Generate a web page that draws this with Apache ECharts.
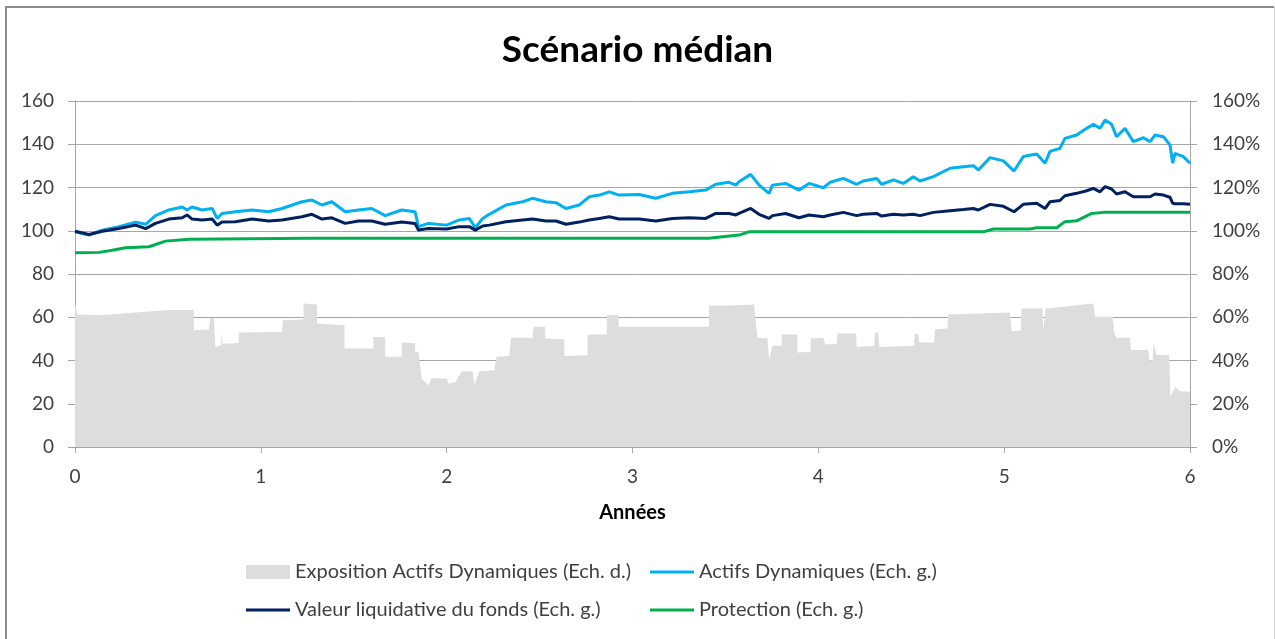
<!DOCTYPE html>
<html>
<head>
<meta charset="utf-8">
<script src="https://cdn.jsdelivr.net/npm/echarts@6/dist/echarts.min.js"></script>
<style>html,body{margin:0;padding:0;background:#fff;}#chart{width:1275px;height:639px;}</style>
</head>
<body>
<div id="chart"></div>
<script>
// ---- Data ----
const title = 'Scénario médian';
const xAxisName = 'Années';
const seriesNames = [
  'Exposition Actifs Dynamiques (Ech. d.)',
  'Actifs Dynamiques (Ech. g.)',
  'Valeur liquidative du fonds (Ech. g.)',
  'Protection (Ech. g.)'
];

// common sampling (years) for Actifs Dynamiques and Valeur liquidative
const lineYears = [0,0.075,0.147,0.236,0.326,0.38,0.433,0.505,0.577,0.603,0.63,0.684,0.738,0.765,0.791,0.863,0.953,1.042,1.114,1.221,1.275,1.329,1.382,1.454,1.526,1.597,1.669,1.758,1.83,1.848,1.902,2.0,2.068,2.122,2.154,2.194,2.229,2.319,2.409,2.462,2.534,2.588,2.642,2.713,2.767,2.821,2.875,2.928,3.036,3.125,3.215,3.305,3.394,3.448,3.52,3.556,3.573,3.636,3.681,3.735,3.753,3.824,3.896,3.95,4.027,4.063,4.135,4.206,4.242,4.314,4.341,4.404,4.457,4.511,4.547,4.619,4.709,4.78,4.834,4.861,4.924,4.996,5.053,5.103,5.175,5.22,5.247,5.3,5.327,5.39,5.444,5.48,5.516,5.543,5.578,5.605,5.65,5.695,5.749,5.785,5.812,5.857,5.892,5.907,5.919,5.964,6.0];

const actifsDynamiques = [99.5,98,100.3,101.9,104,103,107,109.6,111,109.6,111,109.6,110.3,105.7,108,108.8,109.6,108.8,110.3,113.4,114.2,111.9,113.4,108.8,109.6,110.3,107,109.6,108.8,101.9,103.4,102.6,105,105.7,101.4,105.7,107.6,111.9,113.4,115,113.4,113,110.3,111.9,115.7,116.5,118,116.5,116.8,115,117.3,118,118.8,121.5,122.4,121.1,122.7,126.1,121.1,117.3,121.1,121.9,118.8,121.9,119.9,122.4,124.2,121.5,123,124.2,121.5,123.5,121.9,125,123,125,128.9,129.6,130.1,128.1,133.8,132.3,127.6,134.3,135.5,131.2,136.7,138.1,142.7,144.3,147.4,149.2,147.4,151.2,149.2,143.5,147.4,141.2,143,141.2,144.3,143.5,139.7,131.2,135.8,134.3,131.2];

const valeurLiquidative = [99.8,98.3,99.8,101,102.6,101,103.4,105.4,106,107.3,105.4,105,105.4,102.6,104,104.2,105.4,104.5,105,106.5,107.6,105.4,106,103.4,104.5,104.5,103,104,103.4,100.3,101,100.8,101.9,101.9,100.3,102.2,102.6,104.2,105,105.4,104.5,104.5,103,104,105,105.7,106.5,105.4,105.4,104.5,105.7,106,105.7,108,108,107.3,108,110.3,107.6,105.7,107,108,106,107.3,106.5,107.3,108.5,107,107.6,108,106.8,107.6,107.3,107.6,107,108.5,109.3,109.8,110.3,109.6,112.2,111.3,108.8,112.2,112.7,110.3,113.4,114,116.2,117.3,118.5,119.6,118,120.4,119.3,117,118,115.7,115.7,115.7,117,116.5,115.5,112.7,112.5,112.5,112.2];

const protectionYears = [0,0.129,0.2,0.272,0.398,0.487,0.613,1.257,3.412,3.484,3.573,3.627,4.888,4.942,5.139,5.175,5.283,5.327,5.39,5.471,5.534,6.0];
const protection = [89.8,90,91,92.1,92.6,95.2,96.1,96.5,96.5,97.2,98,99.5,99.5,100.8,100.8,101.4,101.4,104.2,104.6,108,108.5,108.5];

// exposure (%) – step profile, repeated years mark vertical jumps
const expositionYears = [0,0.007,0.012,0.147,0.326,0.505,0.639,0.639,0.72,0.729,0.747,0.755,0.787,0.787,0.795,0.795,0.881,0.881,1.114,1.118,1.23,1.23,1.302,1.302,1.45,1.45,1.606,1.606,1.669,1.669,1.758,1.758,1.83,1.83,1.848,1.866,1.902,1.92,2.0,2.011,2.05,2.059,2.082,2.14,2.149,2.176,2.256,2.269,2.337,2.346,2.462,2.468,2.53,2.53,2.633,2.633,2.758,2.758,2.862,2.862,2.925,2.925,3.412,3.412,3.573,3.654,3.672,3.726,3.735,3.753,3.803,3.803,3.887,3.887,3.959,3.959,4.027,4.036,4.099,4.104,4.203,4.206,4.301,4.305,4.323,4.328,4.515,4.519,4.538,4.543,4.623,4.628,4.695,4.7,5.031,5.04,5.089,5.094,5.206,5.21,5.224,5.48,5.489,5.584,5.591,5.605,5.677,5.682,5.776,5.781,5.799,5.803,5.821,5.888,5.895,5.919,5.946,6.0];
const exposition = [66.4,66.4,61.3,61,62.2,63.3,63.3,54,54.3,59.7,59.7,46.3,47,52.5,52.5,47.8,48.1,52.9,53.2,58.6,59.1,66.4,65.9,57.1,56.3,45.5,45.5,50.9,50.9,41.7,41.7,48.3,48,44,44,31.6,28.5,31.9,31.6,29.3,30.2,31.9,35,35,28.5,35,35.5,41.7,42.1,50.5,50.5,55.6,55.6,50.2,49.8,42.1,42.4,52,52,61,61,55.6,55.6,65.3,65.6,65.9,50.5,50.2,40.6,46.8,46.8,52,52,43.7,44,50.2,50.5,47.4,47.8,52.5,52.5,46.3,46.8,52.9,52.9,46.3,46.8,52.5,52,48.3,48.3,54.5,54.8,61.3,62.2,53.5,54,64,64,54,64,66.4,60.2,60.2,53.2,50.5,50.5,44.8,44.8,40.1,40.1,47.8,42.7,42.4,23.1,27.8,25.8,25.5];

const leftTicks = {min: 0, max: 160, interval: 20};
const rightTicks = {min: 0, max: 160, interval: 20};
const xTicks = {min: 0, max: 6, interval: 1};

// ---- Build ----
const zip = (xs, ys) => xs.map((x, i) => [x, ys[i]]);
const colors = ['#dddddd', '#00b0f0', '#002060', '#00b050'];
const FONT = 'Lato, "Open Sans", sans-serif';
const axisGray = '#a6a6a6';

const chart = echarts.init(document.getElementById('chart'));

function legendFor(name, left, top, h) {
  return {
    data: [name], left: left, top: top, orient: 'horizontal',
    icon: 'rect', itemWidth: 44, itemHeight: h, selectedMode: false,
    textStyle: {fontFamily: FONT, fontSize: 20, color: '#404040'}
  };
}

chart.setOption({
  animation: false,
  backgroundColor: '#fff',
  title: {
    text: title, left: 'center', top: 27,
    textStyle: {fontFamily: FONT, fontSize: 37, fontWeight: 'bold', color: '#000'}
  },
  legend: [
    legendFor(seriesNames[0], 241, 557, 14),
    legendFor(seriesNames[1], 645, 557, 3),
    legendFor(seriesNames[2], 241, 595, 3),
    legendFor(seriesNames[3], 645, 595, 3)
  ],
  grid: {left: 75, top: 101, width: 1115, height: 346, containLabel: false},
  xAxis: {
    type: 'value', min: xTicks.min, max: xTicks.max, interval: xTicks.interval,
    name: xAxisName, nameLocation: 'middle', nameGap: 56,
    nameTextStyle: {fontFamily: FONT, fontSize: 20, fontWeight: 'bold', color: '#000'},
    axisLine: {show: true, onZero: false, lineStyle: {color: axisGray, width: 1}},
    axisTick: {show: true, length: 6, inside: false, lineStyle: {color: axisGray}},
    axisLabel: {margin: 20, fontFamily: FONT, fontSize: 19, color: '#404040'},
    splitLine: {show: false}
  },
  yAxis: [
    {
      type: 'value', position: 'left', min: leftTicks.min, max: leftTicks.max, interval: leftTicks.interval,
      axisLine: {show: true, lineStyle: {color: axisGray, width: 1}},
      axisTick: {show: true, length: 7, lineStyle: {color: axisGray}},
      axisLabel: {margin: 21, fontFamily: FONT, fontSize: 19, color: '#404040'},
      splitLine: {show: true, lineStyle: {color: axisGray, width: 1}}
    },
    {
      type: 'value', position: 'right', min: rightTicks.min, max: rightTicks.max, interval: rightTicks.interval,
      axisLine: {show: true, lineStyle: {color: axisGray, width: 1}},
      axisTick: {show: true, length: 7, lineStyle: {color: axisGray}},
      axisLabel: {margin: 22, fontFamily: FONT, fontSize: 19, color: '#404040', formatter: '{value}%'},
      splitLine: {show: false}
    }
  ],
  series: [
    {
      name: seriesNames[0], type: 'line', yAxisIndex: 1, z: 1,
      data: zip(expositionYears, exposition),
      showSymbol: false, symbol: 'none',
      itemStyle: {color: colors[0]},
      lineStyle: {width: 0, color: colors[0]},
      areaStyle: {color: colors[0], opacity: 1}
    },
    {
      name: seriesNames[1], type: 'line', yAxisIndex: 0, z: 3,
      data: zip(lineYears, actifsDynamiques),
      showSymbol: false, symbol: 'none',
      itemStyle: {color: colors[1]},
      lineStyle: {width: 3, color: colors[1]}
    },
    {
      name: seriesNames[2], type: 'line', yAxisIndex: 0, z: 4,
      data: zip(lineYears, valeurLiquidative),
      showSymbol: false, symbol: 'none',
      itemStyle: {color: colors[2]},
      lineStyle: {width: 3, color: colors[2]}
    },
    {
      name: seriesNames[3], type: 'line', yAxisIndex: 0, z: 3,
      data: zip(protectionYears, protection),
      showSymbol: false, symbol: 'none',
      itemStyle: {color: colors[3]},
      lineStyle: {width: 3, color: colors[3]}
    }
  ],
  graphic: [
    {type: 'polyline', silent: true, shape: {points: [[6, 700], [6, 7], [1274, 7]]},
     style: {stroke: '#8c8c8c', lineWidth: 2, fill: null}},
    {type: 'line', silent: true, shape: {x1: 1274.5, y1: 7, x2: 1274.5, y2: 639},
     style: {stroke: '#d0d0d0', lineWidth: 1}}
  ]
});
</script>
</body>
</html>
